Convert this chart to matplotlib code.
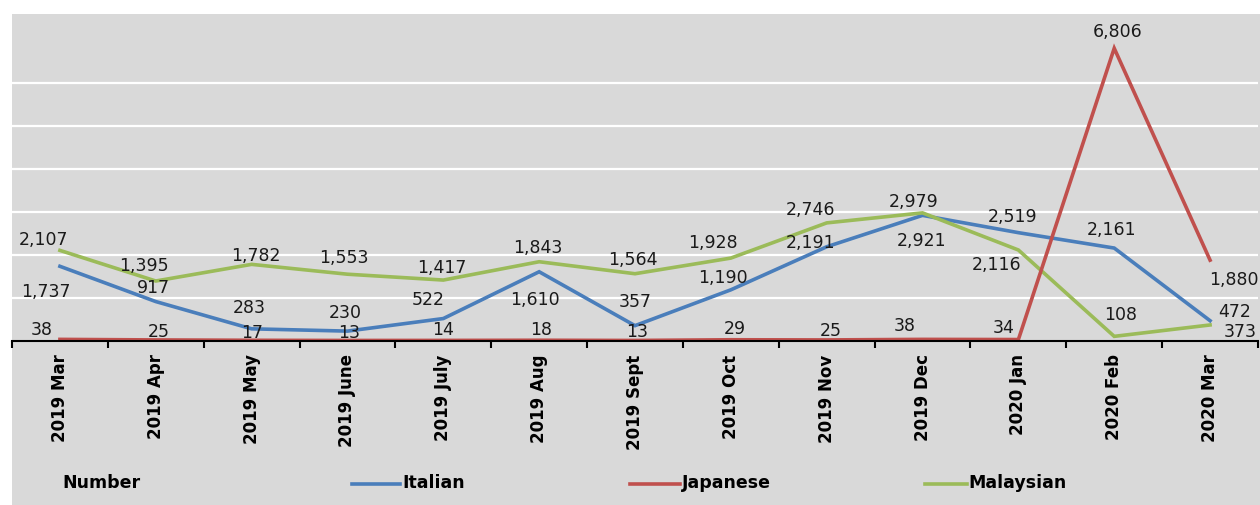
import matplotlib
matplotlib.use("Agg")
import matplotlib.pyplot as plt
from matplotlib.lines import Line2D
from matplotlib.patches import Rectangle

categories = ["2019 Mar", "2019 Apr", "2019 May", "2019 June", "2019 July", "2019 Aug",
              "2019 Sept", "2019 Oct", "2019 Nov", "2019 Dec", "2020 Jan", "2020 Feb", "2020 Mar"]
italian = [1737, 917, 283, 230, 522, 1610, 357, 1190, 2191, 2921, 2519, 2161, 472]
japanese = [38, 25, 17, 13, 14, 18, 13, 29, 25, 38, 34, 6806, 1880]
malaysian = [2107, 1395, 1782, 1553, 1417, 1843, 1564, 1928, 2746, 2979, 2116, 108, 373]

# label offsets in pixels (dx, dy up)
off_it = [(-14, -25), (-2, 15), (-2, 22), (-2, 19), (-15, 20), (-4, -27), (0, 25),
          (-8, 13), (-16, 5), (-1, -25), (-6, 17), (-3, 19), (25, 10)]
off_jp = [(-18, 10), (3, 9), (1, 8), (2, 8), (0, 11), (2, 11), (2, 9), (4, 12),
          (4, 10), (-18, 14), (-15, 13), (3, 17), (24, -19)]
off_my = [(-16, 11), (-12, 16), (4, 9), (-4, 17), (-1, 13), (-1, 15), (-2, 15),
          (-18, 16), (-16, 14), (-9, 12), (-22, -14), (6, 22), (30, -6)]

W, H = 1260, 506
fig = plt.figure(figsize=(W / 100, H / 100), dpi=100, facecolor="white")
fig.add_artist(Rectangle((12 / W, 0), 1 - 12 / W, (H - 15) / H, transform=fig.transFigure,
                         facecolor="#d9d9d9", edgecolor="none", zorder=0))

ax = fig.add_axes([12 / W, (H - 342) / H, (1258 - 12) / W, (342 - 16) / H])
ax.set_facecolor("none")
x = list(range(len(categories)))

c_it, c_jp, c_my = "#4a7ebb", "#c0504d", "#9bbb59"
ax.plot(x, italian, color=c_it, lw=2.6, zorder=3, solid_joinstyle="miter")
ax.plot(x, malaysian, color=c_my, lw=2.6, zorder=3, solid_joinstyle="miter")
ax.plot(x, japanese, color=c_jp, lw=2.6, zorder=4, solid_joinstyle="miter")

lab_font = dict(family="DejaVu Sans", fontsize=12.5, color="#1a1a1a", ha="center", va="center")
for vals, offs in ((italian, off_it), (japanese, off_jp), (malaysian, off_my)):
    for i, (v, (dx, dy)) in enumerate(zip(vals, offs)):
        ax.annotate(f"{v:,}", (i, v), xytext=(dx, dy), textcoords="offset pixels",
                    zorder=6, **lab_font)

ax.set_xlim(-0.5, len(categories) - 0.5)
ax.set_ylim(0, 7580)
ax.set_yticks([1000, 2000, 3000, 4000, 5000, 6000])
ax.yaxis.grid(True, color="white", lw=1.6)
ax.set_axisbelow(True)
ax.tick_params(axis="y", left=False, labelleft=False)
for s in ("left", "right", "top"):
    ax.spines[s].set_visible(False)
ax.spines["bottom"].set_color("black")
ax.spines["bottom"].set_linewidth(1.5)
ax.spines["bottom"].set_zorder(5)

ax.set_xticks([i - 0.5 for i in range(len(categories) + 1)], minor=False)
ax.set_xticklabels([])
ax.tick_params(axis="x", which="major", direction="out", length=5, width=1.5, color="black")
ax.set_xticks(x, minor=True)
ax.set_xticklabels(categories, minor=True, rotation=90, fontweight="bold",
                   family="DejaVu Sans", fontsize=12, va="top", ha="center")
ax.tick_params(axis="x", which="minor", length=0, pad=9)

# legend
fig.text(62 / W, 1 - 483 / H, "Number", fontweight="bold", fontsize=12.5,
         family="DejaVu Sans", va="center", ha="left")
for (x0, x1, tx), col, name in (((352, 400, 402), c_it, "Italian"),
                                ((630, 680, 682), c_jp, "Japanese"),
                                ((925, 967, 968), c_my, "Malaysian")):
    fig.add_artist(Line2D([x0 / W, x1 / W], [1 - 485 / H, 1 - 485 / H], color=col, lw=2.6,
                          transform=fig.transFigure))
    fig.text(tx / W, 1 - 483 / H, name, fontweight="bold", fontsize=12.5,
             family="DejaVu Sans", va="center", ha="left")

fig.savefig("out.png", dpi=100, facecolor="white")
